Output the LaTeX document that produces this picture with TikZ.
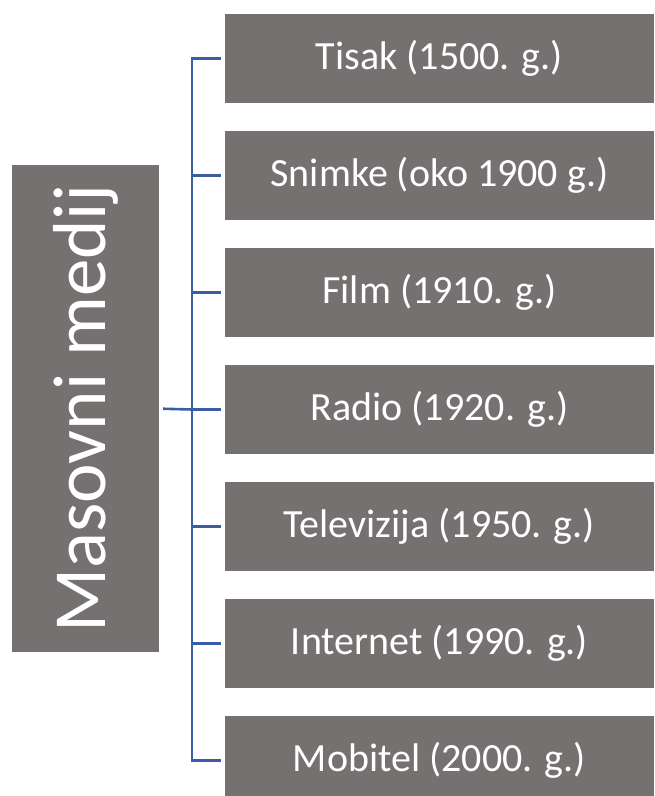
\documentclass[tikz,border=0pt]{standalone}
\usepackage{fontspec}
\setmainfont{Carlito}
\usepackage{tikz}
\usetikzlibrary{calc}

\definecolor{boxgray}{RGB}{118,113,113}
\definecolor{linkblue}{RGB}{59,93,166}

\tikzset{
	medium/.style={fill=boxgray, text=white, inner sep=0pt, minimum width=429pt, minimum height=89pt, font=\fontsize{40}{48}\selectfont},
	link/.style={draw=linkblue, line width=2.6pt},
}

\begin{document}
\begin{tikzpicture}[x=1pt,y=-1pt]
		\useasboundingbox (0,0) rectangle (655,796);
		
		\coordinate (hub) at (192,409.5);
		
		\node[fill=boxgray, text=white, inner sep=0pt, minimum width=147pt, minimum height=487pt] (medij) at (85.5,408.75) {\rotatebox{90}{\fontsize{75}{90}\selectfont Masovni medij}};
		
		\node[medium] (tisak) at (439.5,58.5) {Tisak (1500. g.)};
		\node[medium] (snimke) at (439.5,175.5) {Snimke (oko 1900 g.)};
		\node[medium] (film) at (439.5,292.5) {Film (1910. g.)};
		\node[medium] (radio) at (439.5,409.5) {Radio (1920. g.)};
		\node[medium] (tv) at (439.5,526.5) {Televizija (1950. g.)};
		\node[medium] (internet) at (439.5,643.5) {Internet (1990. g.)};
		\node[medium] (mobitel) at (439.5,760.5) {Mobitel (2000. g.)};
		
		\draw[link] ([xshift=4pt]medij.east) -- (hub);
		
		\draw[link] ([xshift=-4pt]tisak.west) -- (tisak.west -| hub) -- (mobitel.west -| hub) -- ([xshift=-4pt]mobitel.west);
		
		\draw[link] (snimke.west -| hub) -- ([xshift=-4pt]snimke.west);
		\draw[link] (film.west -| hub) -- ([xshift=-4pt]film.west);
		\draw[link] (hub) -- ([xshift=-4pt]radio.west);
		\draw[link] (tv.west -| hub) -- ([xshift=-4pt]tv.west);
		\draw[link] (internet.west -| hub) -- ([xshift=-4pt]internet.west);
	\end{tikzpicture}
\end{document}
